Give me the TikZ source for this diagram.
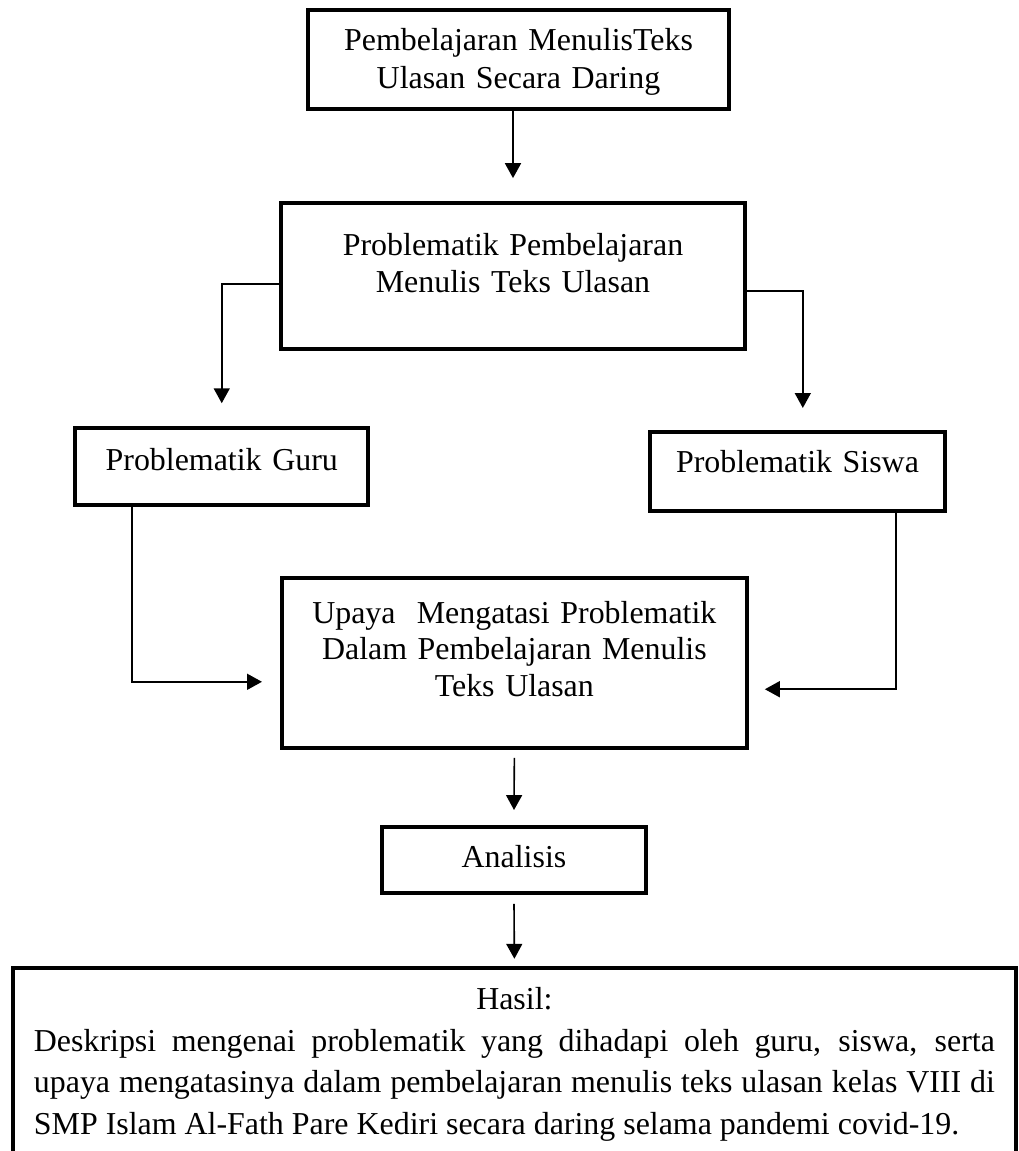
\documentclass[tikz,border=0pt]{standalone}
\usepackage{fontspec}
\setmainfont{Liberation Serif}
\usetikzlibrary{arrows.meta}

\begin{document}
\begin{tikzpicture}[
        x=0.376pt, y=-0.376pt,
        box/.style={draw=black, line width=1.5pt, fill=white, inner sep=0pt,
                    align=center, font=\fontsize{12pt}{14.2pt}\selectfont},
        arrow/.style={-{Triangle[length=5.6pt, width=6pt]}, draw=black, line width=0.6pt}
      ]
        \useasboundingbox (0,0) rectangle (1019,1151);

        \node[box, text width=158.3pt, text height=15.4pt, text depth=21.8pt] (daring) at (518.5,59.5)
          {Pembelajaran MenulisTeks\\Ulasan Secara Daring};
        \node[box, text width=174.8pt, text height=19.6pt, text depth=35.3pt] (prob) at (513,276)
          {Problematik Pembelajaran\\Menulis Teks Ulasan};
        \node[box, text width=110pt, text height=15.8pt, text depth=13.3pt] (guru) at (221.75,466.75)
          {Problematik Guru};
        \node[box, text width=110.9pt, text height=15.3pt, text depth=14.4pt] (siswa) at (797.5,471.5)
          {Problematik Siswa};
        \node[box, text width=174.7pt, text height=17.1pt, text depth=47.1pt,
              font=\fontsize{12pt}{13.9pt}\selectfont] (upaya) at (514.35,662.9)
          {Upaya~ Mengatasi Problematik\\Dalam Pembelajaran Menulis\\Teks Ulasan};
        \node[box, text width=98.9pt, text height=15.2pt, text depth=9.9pt] (anal) at (514,860)
          {Analisis};
        \node[box, text width=361.3pt, inner xsep=7.95pt, align=justify, text height=15.8pt,
              text depth=60.2pt, font=\fontsize{12pt}{15.6pt}\selectfont] (hasil) at (514.4,1069)
          {\hfill Hasil:\hfill\null\par
           Deskripsi mengenai problematik yang dihadapi oleh guru, siswa, serta\linebreak
           upaya mengatasinya dalam pembelajaran menulis teks ulasan kelas VIII di\linebreak
           SMP Islam Al-Fath Pare Kediri secara daring selama pandemi covid-19.};

        \draw[arrow] (daring.south -| prob.north) -- ([yshift=8.6pt]prob.north);
        \draw[arrow] ([yshift=-3pt]prob.west) -| ([yshift=8.6pt]guru.north);
        \draw[arrow] ([yshift=-5.6pt]prob.east) -| ([xshift=2pt, yshift=8.3pt]siswa.north);
        \draw[arrow] ([xshift=-33.75pt]guru.south) |- ([xshift=-6.8pt, yshift=-7.1pt]upaya.west);
        \draw[arrow] ([xshift=37pt]siswa.south) |- ([xshift=6.1pt, yshift=-9.9pt]upaya.east);
        \draw[arrow] ([yshift=-2.9pt]upaya.south) -- ([yshift=5.5pt]anal.north);
        \draw[arrow] ([yshift=-3.2pt]anal.south) -- ([yshift=2.7pt]hasil.north);
      \end{tikzpicture}
\end{document}
